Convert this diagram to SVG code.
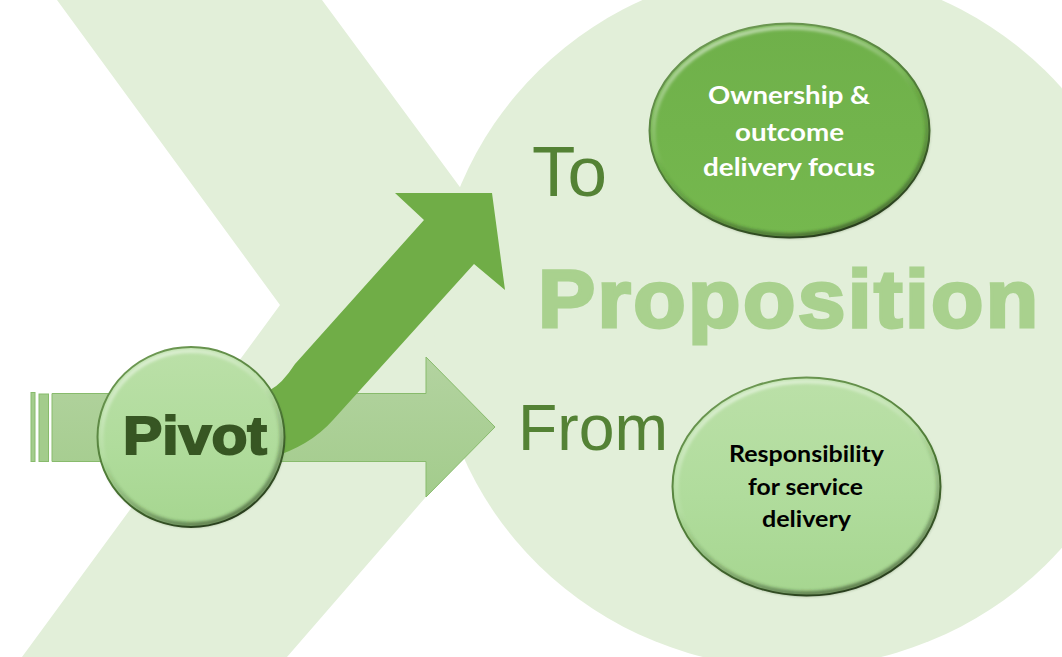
<svg xmlns="http://www.w3.org/2000/svg" width="1062" height="657" viewBox="0 0 1062 657">
<defs>
<linearGradient id="fillLight" x1="0" y1="0" x2="0" y2="1"><stop offset="0" stop-color="#bbe0a8"/><stop offset="0.55" stop-color="#b0dc9c"/><stop offset="1" stop-color="#a6d690"/></linearGradient>
<linearGradient id="fillDark" x1="0" y1="0" x2="0" y2="1"><stop offset="0" stop-color="#6fb04a"/><stop offset="1" stop-color="#75b84e"/></linearGradient>
<linearGradient id="arrowFill" x1="0" y1="0" x2="0" y2="1"><stop offset="0" stop-color="#b3d3a0"/><stop offset="1" stop-color="#a3cc8c"/></linearGradient>
<linearGradient id="rim" x1="0.25" y1="0" x2="0.7" y2="1"><stop offset="0" stop-color="#6f9a55"/><stop offset="0.55" stop-color="#4d7a35"/><stop offset="1" stop-color="#263a1b"/></linearGradient>
<linearGradient id="shine" x1="0.3" y1="0" x2="0.5" y2="0.5"><stop offset="0" stop-color="#fff" stop-opacity="0.55"/><stop offset="1" stop-color="#fff" stop-opacity="0"/></linearGradient>
<linearGradient id="shade" x1="0.4" y1="0.45" x2="0.65" y2="1"><stop offset="0" stop-color="#2d4420" stop-opacity="0"/><stop offset="1" stop-color="#2d4420" stop-opacity="0.6"/></linearGradient>
<filter id="soft" x="-10%" y="-10%" width="120%" height="120%"><feGaussianBlur stdDeviation="1.4"/></filter>
</defs>
<style>
.lbl{font-family:"Lato","Noto Sans","Liberation Sans",sans-serif;font-weight:700;text-anchor:middle}
.big{font-family:"Liberation Sans",sans-serif;fill:#548235}
.heavy{font-family:"Liberation Sans",sans-serif;font-weight:700}
.rim{fill:none;stroke:url(#rim);stroke-width:2}
.shine{fill:none;stroke:url(#shine);stroke-width:4;filter:url(#soft)}
.shade{fill:none;stroke:url(#shade);stroke-width:5;filter:url(#soft)}
.bar{fill:#a3cc8c;stroke:#88bb6c}
</style>
<rect width="1062" height="657" fill="#fff"/>
<g id="background">
<path d="M57 0H322L510 255V400L287 657H22L280 305Z" fill="#e2efd9"/>
<ellipse cx="792" cy="318" rx="358" ry="350" fill="#e2efd9"/>
</g>
<g id="connectors">
<rect x="31" y="392.500" width="4" height="69" class="bar"/>
<rect x="39" y="394" width="9.500" height="67.500" class="bar"/>
<path d="M52 393.500H426V357L495 427L426 497V461.500H52Z" fill="url(#arrowFill)" stroke="#88bb6c"/>
<path d="M395 193H492L505 290L474 264L333 420Q310 446 270 458V390Q282 384 295 364L424 220Z" fill="#70ad47"/>
</g>
<g id="pivot">
<ellipse cx="191" cy="437" rx="93.500" ry="90" fill="url(#fillLight)"/>
<ellipse cx="191" cy="437" rx="89.500" ry="86" class="shine"/>
<ellipse cx="191" cy="437" rx="91" ry="87.500" class="shade"/>
<ellipse cx="191" cy="437" rx="93.500" ry="90" class="rim"/>
<text class="heavy" x="123" y="453.500" font-size="53.500" fill="#375623" stroke="#375623" stroke-width="2" textLength="144" lengthAdjust="spacingAndGlyphs">Pivot</text>
</g>
<g id="to-label"><text class="big" x="532" y="196" font-size="71">To</text></g>
<g id="from-label"><text class="big" x="518" y="450" font-size="64" textLength="150" lengthAdjust="spacingAndGlyphs">From</text></g>
<g id="proposition"><text class="heavy" transform="translate(538 327) scale(1.06 1)" font-size="81" fill="#a9d18e" stroke="#a9d18e" stroke-width="3" textLength="472">Proposition</text></g>
<g id="ownership">
<ellipse cx="789.500" cy="130.500" rx="140" ry="107" fill="url(#fillDark)"/>
<ellipse cx="789.500" cy="130.500" rx="136" ry="103" class="shine"/>
<ellipse cx="789.500" cy="130.500" rx="138" ry="105" class="shade"/>
<ellipse cx="789.500" cy="130.500" rx="140" ry="107" class="rim"/>
<text class="lbl" font-size="25" fill="#fff"><tspan x="789" y="104" textLength="162" lengthAdjust="spacingAndGlyphs">Ownership &amp;</tspan></text>
<text class="lbl" font-size="25" fill="#fff"><tspan x="789.500" y="141" textLength="109" lengthAdjust="spacingAndGlyphs">outcome</tspan></text>
<text class="lbl" font-size="25" fill="#fff"><tspan x="789" y="176" textLength="172" lengthAdjust="spacingAndGlyphs">delivery focus</tspan></text>
</g>
<g id="responsibility">
<ellipse cx="806.500" cy="486.500" rx="134" ry="109" fill="url(#fillLight)"/>
<ellipse cx="806.500" cy="486.500" rx="130" ry="105" class="shine"/>
<ellipse cx="806.500" cy="486.500" rx="132" ry="107" class="shade"/>
<ellipse cx="806.500" cy="486.500" rx="134" ry="109" class="rim"/>
<text class="lbl" font-size="23" fill="#000"><tspan x="806.500" y="462" textLength="155" lengthAdjust="spacingAndGlyphs">Responsibility</tspan></text>
<text class="lbl" font-size="23" fill="#000"><tspan x="805.500" y="495" textLength="115" lengthAdjust="spacingAndGlyphs">for service</tspan></text>
<text class="lbl" font-size="23" fill="#000"><tspan x="806.500" y="527" textLength="89" lengthAdjust="spacingAndGlyphs">delivery</tspan></text>
</g>
</svg>
